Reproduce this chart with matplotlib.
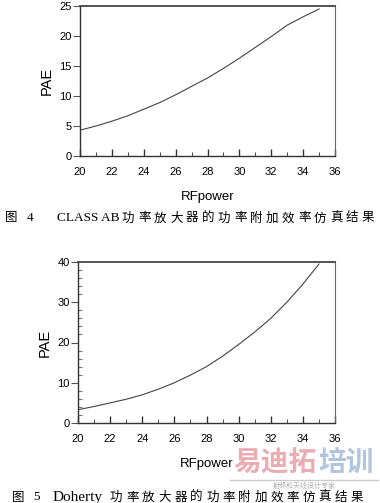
import matplotlib
matplotlib.use("Agg")
import matplotlib.pyplot as plt
from matplotlib.ticker import MultipleLocator
from matplotlib.lines import Line2D

# Data
rf_power = [20, 21, 22, 23, 24, 25, 26, 27, 28, 29, 30, 31, 32, 33, 34, 35]
pae_classab = [4.3, 5.0, 5.8, 6.7, 7.8, 8.9, 10.2, 11.6, 13.0, 14.6, 16.3, 18.1, 19.9, 21.8, 23.2, 24.5]
pae_doherty = [3.3, 4.1, 5.0, 5.9, 7.0, 8.4, 10.0, 11.9, 14.0, 16.6, 19.5, 22.6, 26.0, 30.0, 34.5, 39.5]
xticks = [20, 22, 24, 26, 28, 30, 32, 34, 36]
cap1_fig, cap1_num, cap1_latin, cap1_cn = "图", "4", "CLASS AB", "功率放大器的功率附加效率仿真结果"
cap2_fig, cap2_num, cap2_latin, cap2_cn = "图", "5", "Doherty", "功率放大器的功率附加效率仿真结果"

plt.rcParams['font.family'] = ['Liberation Sans', 'DejaVu Sans']

W, H = 380, 503
fig = plt.figure(figsize=(3.8, 5.03), dpi=100)
fig.patch.set_facecolor('white')

def style(ax, ymax, ystep, yminor):
    ax.set_xlim(20, 36)
    ax.set_ylim(0, ymax)
    ax.set_xticks(xticks)
    ax.xaxis.set_minor_locator(MultipleLocator(1))
    ax.yaxis.set_major_locator(MultipleLocator(ystep))
    if yminor:
        ax.yaxis.set_minor_locator(MultipleLocator(yminor))
    ax.tick_params(axis='x', direction='in', length=5, width=1, colors='#333333', labelsize=8, pad=8, labelcolor='black')
    ax.tick_params(axis='x', which='minor', direction='in', length=3, width=0.8, colors='#555555')
    ax.tick_params(axis='y', direction='out', length=5, width=0.8, colors='#555555', labelsize=8, labelcolor='black', pad=1)
    ax.tick_params(axis='y', which='minor', direction='in', length=3, width=0.8, colors='#777777')
    for s in ['left', 'bottom']:
        ax.spines[s].set_color('#333333')
        ax.spines[s].set_linewidth(1.0)
    ax.spines['top'].set_color('#444444')
    ax.spines['top'].set_linewidth(1.3)
    ax.spines['right'].set_color('#666666')
    ax.spines['right'].set_linewidth(0.8)
    ax.set_xlabel("RFpower", fontsize=9.5, labelpad=10)
    ax.set_ylabel("PAE", fontsize=10.5, labelpad=4)

ax1 = fig.add_axes([80 / W, 1 - 156 / H, 255 / W, 150 / H])
ax1.plot(rf_power, pae_classab, color='#444444', lw=0.8)
style(ax1, 25, 5, None)

ax2 = fig.add_axes([78 / W, 1 - 423 / H, 257 / W, 161 / H])
ax2.plot(rf_power, pae_doherty, color='#444444', lw=0.8)
style(ax2, 40, 10, 2)

cjk = ['Noto Sans CJK SC', 'DejaVu Sans']
serif = ['Liberation Serif', 'DejaVu Serif']

def caption(y, x_fig, figc, x_num, num, x_lat, lat, lat_size, x_cn, cn, step):
    yy = 1 - y / H
    fig.text(x_fig / W, yy, figc, fontsize=9, family=cjk, va='center', ha='left')
    fig.text(x_num / W, yy, num, fontsize=9.5, family=serif, va='center', ha='left')
    fig.text(x_lat / W, yy, lat, fontsize=lat_size, family=serif, va='center', ha='left')
    for i, ch in enumerate(cn):
        fig.text((x_cn + i * step) / W, yy, ch, fontsize=9, family=cjk, va='center', ha='left')

caption(218, 5, cap1_fig, 27, cap1_num, 57, cap1_latin, 9.5, 122, cap1_cn, 16.0)
caption(497, 12, cap2_fig, 33, cap2_num, 53, cap2_latin, 11, 110, cap2_cn, 16.05)

# watermark
wy = 1 - 463 / H
fig.text(233 / W, wy, "易迪拓", fontsize=20, family=cjk, color='#e9a3ac', alpha=0.9,
         va='center', ha='left', weight='bold')
fig.text(318 / W, wy, "培训", fontsize=20, family=cjk, color='#a9bfdc', alpha=0.9,
         va='center', ha='left', weight='bold')
fig.add_artist(Line2D([230 / W, 378 / W], [1 - 480 / H, 1 - 480 / H], color='#cccccc', lw=1.0))
fig.text(304 / W, 1 - 485.5 / H, "射频和天线设计专家", fontsize=5, family=cjk, color='#b0b0b0',
         va='center', ha='center')

fig.savefig("out.png", dpi=100)
